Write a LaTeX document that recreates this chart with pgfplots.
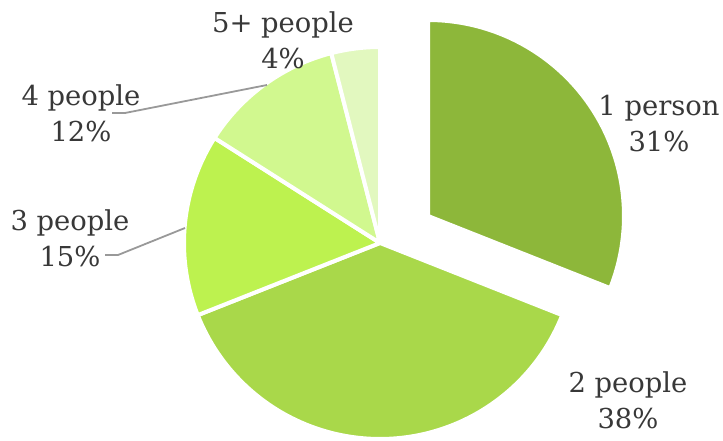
\documentclass[border=0pt]{standalone}
\usepackage{pgfplots}
\pgfplotsset{compat=1.18}
\usepackage{fontspec}
\setmainfont{DejaVu Serif}
\definecolor{cA}{HTML}{8DB73A}
\definecolor{cB}{HTML}{A9D84A}
\definecolor{cC}{HTML}{BDF24F}
\definecolor{cD}{HTML}{D1F88F}
\definecolor{cE}{HTML}{E2F8BF}
\definecolor{txt}{HTML}{383838}
\definecolor{lead}{HTML}{999999}
% #1 cumulative start (%), #2 share (%), #3 colour, #4,#5 slice centre
\newcommand{\pieslice}[5]{%
  \addplot[draw=white, line width=4bp, line join=round, fill=#3,
    domain={90-3.6*(#1+#2)}:{90-3.6*(#1)}, samples=90, variable=\t]
    ({#4+196*cos(\t)},{#5+196*sin(\t)}) -- (axis cs:#4,#5) -- cycle;
}
\begin{document}
\begin{tikzpicture}
\begin{axis}[
  scale only axis, width=723bp, height=441bp,
  xmin=0, xmax=723, ymin=0, ymax=441,
  hide axis, clip=false,
]
% shares: 1 person 31, 2 people 38, 3 people 15, 4 people 12, 5+ people 4
\pieslice{0}{31}{cA}{428}{225}
\pieslice{31}{38}{cB}{380}{198}
\pieslice{69}{15}{cC}{380}{198}
\pieslice{84}{12}{cD}{380}{198}
\pieslice{96}{4}{cE}{380}{198}
% leader lines
\addplot[lead, line width=1.8bp] coordinates {(112,328) (125,328) (267,356)};
\addplot[lead, line width=1.8bp] coordinates {(105,186) (118,186) (185,213)};
% labels
\begin{scope}[every node/.style={text=txt, align=center, font=\fontsize{27.5}{36}\selectfont}]
\node at (axis cs:283,401) {5+ people\\4\%};
\node at (axis cs:81,327.5) {4 people\\12\%};
\node at (axis cs:70,202.5) {3 people\\15\%};
\node at (axis cs:659,317.5) {1 person\\31\%};
\node at (axis cs:628,40.5) {2 people\\38\%};
\end{scope}
\end{axis}
\pgfresetboundingbox
\useasboundingbox (0,0) rectangle (723bp,441bp);
\end{tikzpicture}
\end{document}
